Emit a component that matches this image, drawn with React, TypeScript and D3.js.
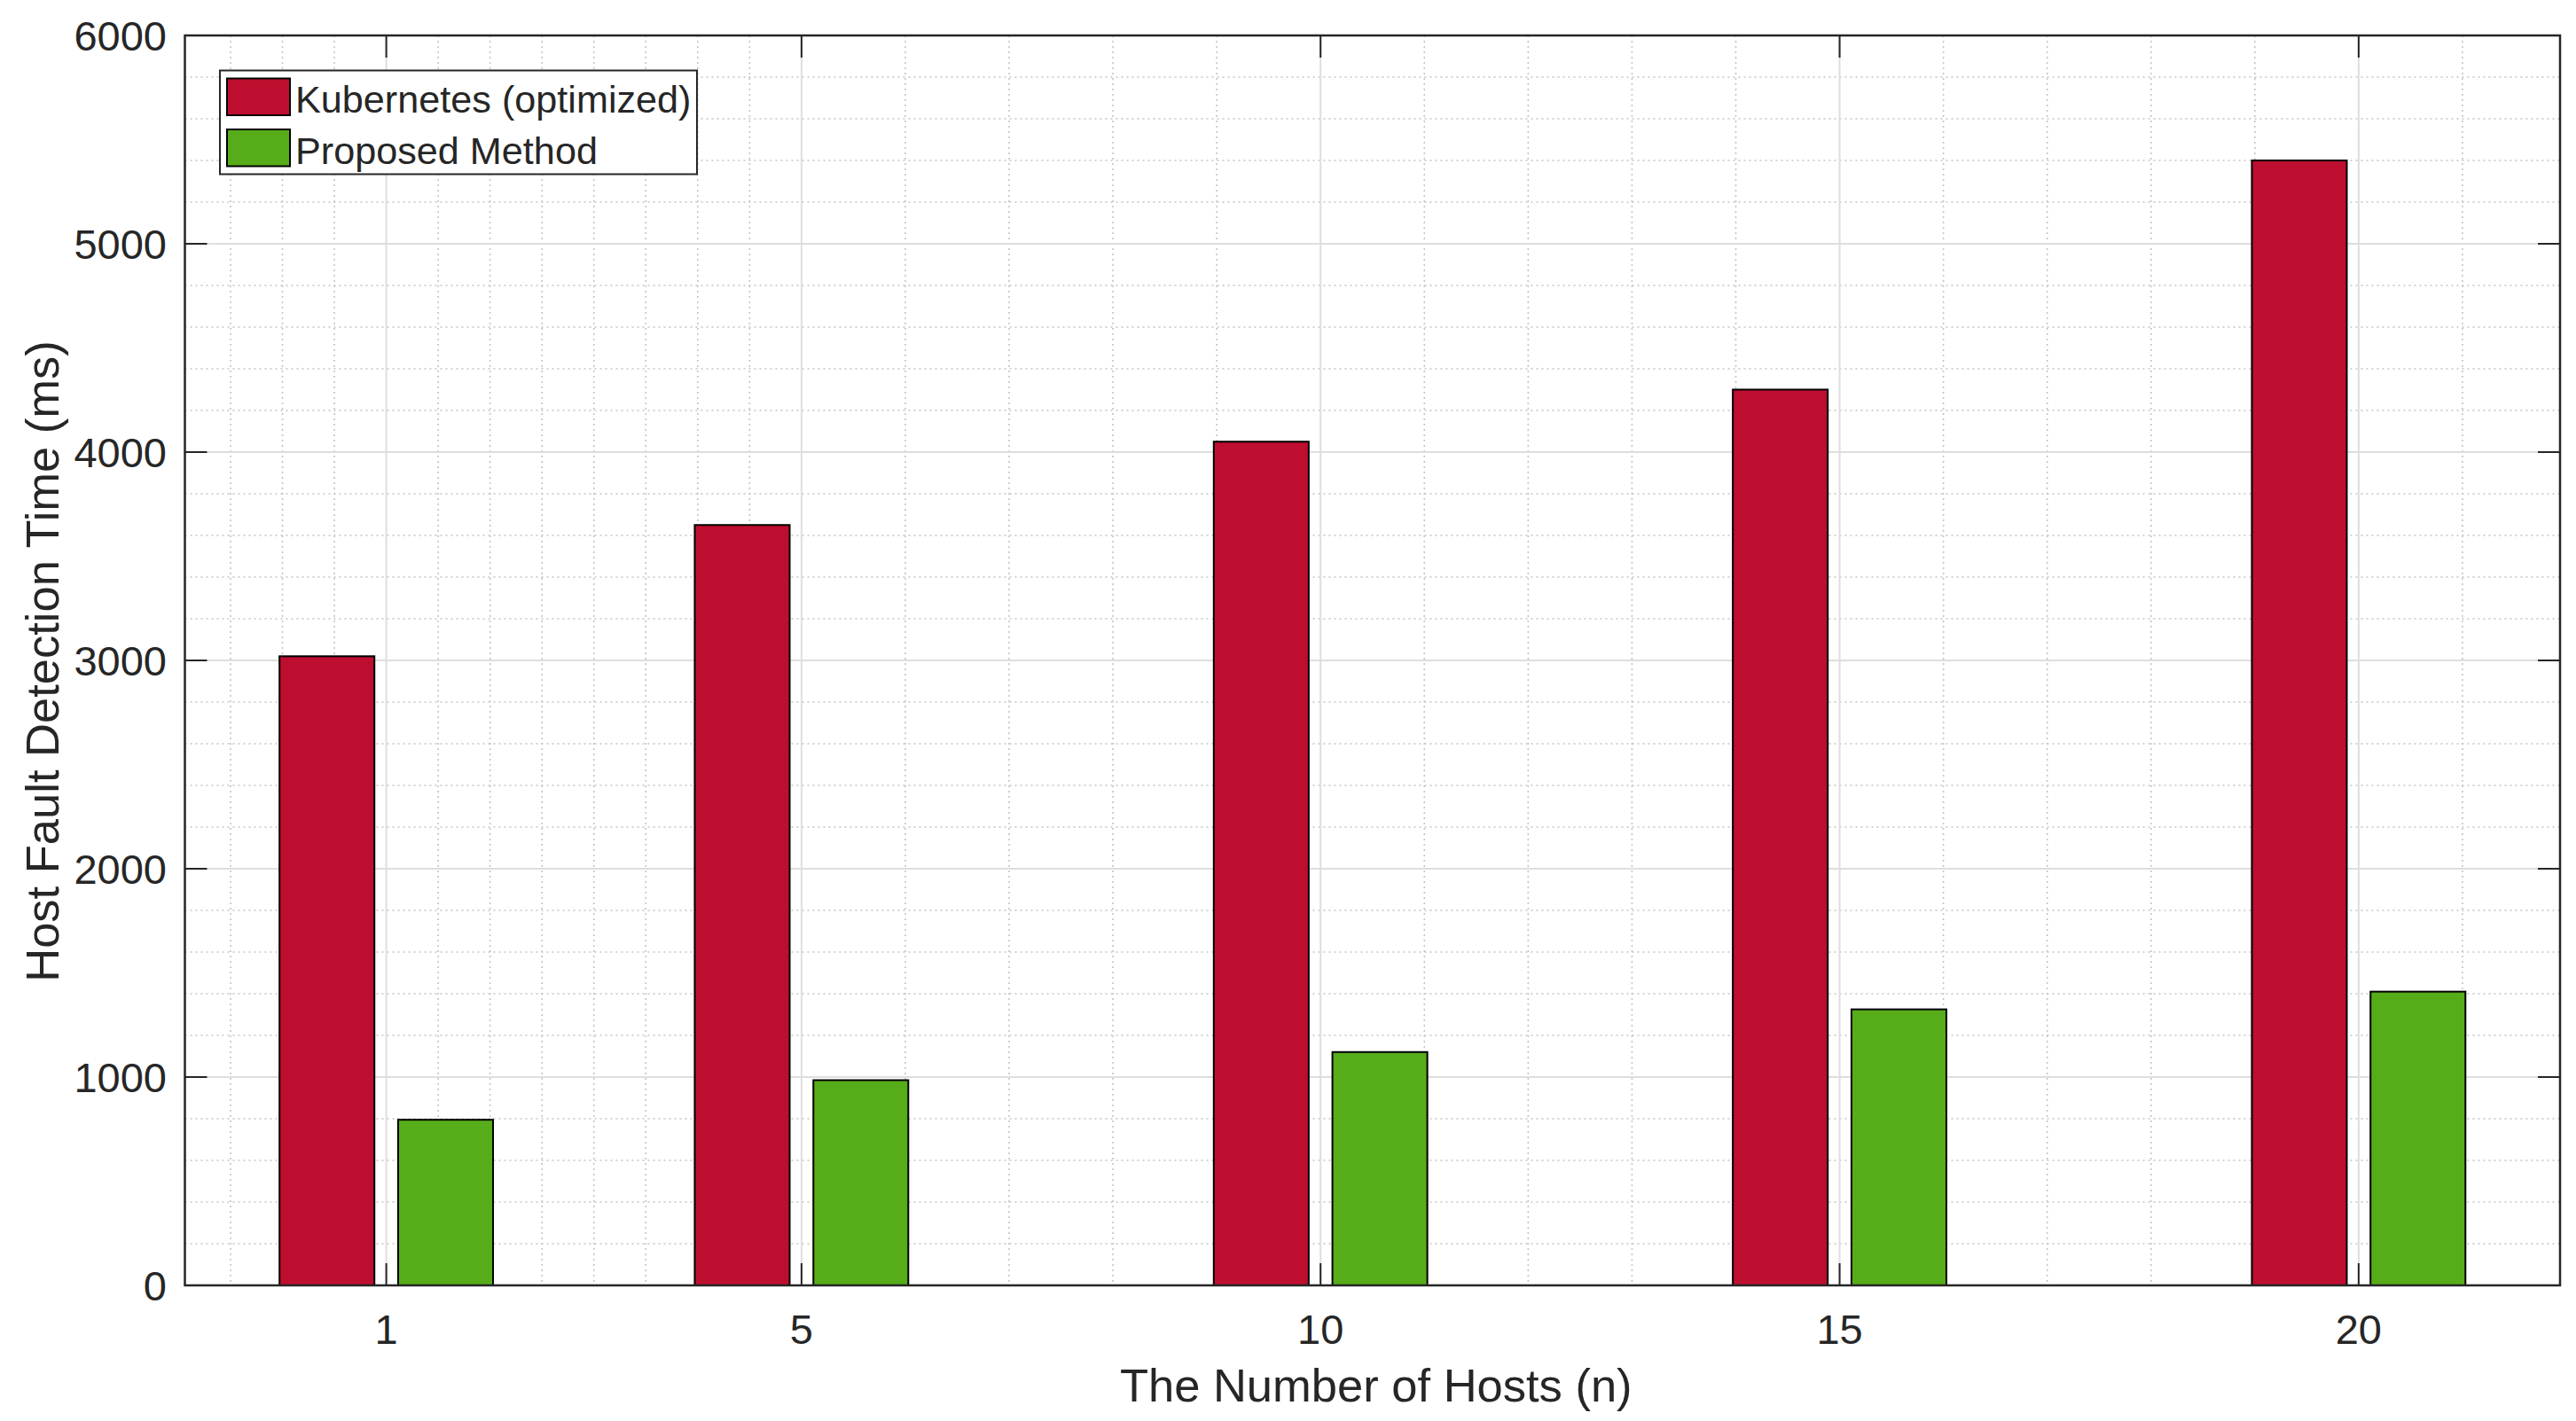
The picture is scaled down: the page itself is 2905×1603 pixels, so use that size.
import React from "react";
import * as d3 from "d3";

const hosts = [1, 5, 10, 15, 20];
const kubernetes = [3020, 3650, 4050, 4300, 5400];
const proposed = [795, 985, 1120, 1325, 1410];
const seriesNames = ["Kubernetes (optimized)", "Proposed Method"];
const seriesColors = ["#BE0E2F", "#57AD19"];
const yTicks = [0, 1000, 2000, 3000, 4000, 5000, 6000];
const xMinorTicks = [-0.5, 0, 0.5, 1.5, 2, 2.5, 3, 3.5, 4, 4.5, 6, 7, 8, 9, 11, 12, 13, 14, 16, 17, 18, 19, 21];
const yMinorTicks = d3.range(200, 6000, 200).filter((v) => v % 1000 !== 0);

const W = 2905;
const H = 1603;
const L = 208.5, R = 2887, T = 40, B = 1450;
const FONT = "'Liberation Sans', Arial, Helvetica, sans-serif";
const TXT = "#262626";

export default function App() {
  const x = d3.scaleLinear().domain([-0.94, 21.94]).range([L, R]);
  const y = d3.scaleLinear().domain([0, 6000]).range([B, T]);
  const dx = 4;
  const groupWidth = Math.min(0.8, 2 / 3.5) * dx;
  const barW = (groupWidth / 2) * 0.8;
  const offsets = [-groupWidth / 4, groupWidth / 4];
  const series = [kubernetes, proposed];
  const tickLen = 25;

  return (
    <svg width={W} height={H} style={{ position: "absolute", left: 0, top: 0, display: "block", background: "#fff" }}>
      <rect x={0} y={0} width={W} height={H} fill="#fff" />
      {xMinorTicks.map((v) => (
        <line key={"xm" + v} x1={x(v)} x2={x(v)} y1={T} y2={B} stroke="#C4C4C4" strokeWidth={1.6} strokeDasharray="2 4" />
      ))}
      {yMinorTicks.map((v) => (
        <line key={"ym" + v} x1={L} x2={R} y1={y(v)} y2={y(v)} stroke="#C4C4C4" strokeWidth={1.6} strokeDasharray="2 4" />
      ))}
      {hosts.map((v) => (
        <line key={"xg" + v} x1={x(v)} x2={x(v)} y1={T} y2={B} stroke="#DEDEDE" strokeWidth={2} />
      ))}
      {yTicks.map((v) => (
        <line key={"yg" + v} x1={L} x2={R} y1={y(v)} y2={y(v)} stroke="#DEDEDE" strokeWidth={2} />
      ))}
      {series.map((vals, si) =>
        vals.map((v, i) => {
          const cx = hosts[i] + offsets[si];
          const x0 = x(cx - barW / 2);
          const x1 = x(cx + barW / 2);
          return (
            <rect key={si + "-" + i} x={x0} y={y(v)} width={x1 - x0} height={y(0) - y(v)} fill={seriesColors[si]} stroke="#000" strokeWidth={2} />
          );
        })
      )}
      {hosts.map((v) => (
        <g key={"xt" + v}>
          <line x1={x(v)} x2={x(v)} y1={B} y2={B - tickLen} stroke={TXT} strokeWidth={2} />
          <line x1={x(v)} x2={x(v)} y1={T} y2={T + tickLen} stroke={TXT} strokeWidth={2} />
          <text x={x(v)} y={1516} textAnchor="middle" fontFamily={FONT} fontSize={47} fill={TXT}>{v}</text>
        </g>
      ))}
      {yTicks.map((v) => (
        <g key={"yt" + v}>
          <line x1={L} x2={L + tickLen} y1={y(v)} y2={y(v)} stroke={TXT} strokeWidth={2} />
          <line x1={R} x2={R - tickLen} y1={y(v)} y2={y(v)} stroke={TXT} strokeWidth={2} />
          <text x={188} y={y(v) + 17} textAnchor="end" fontFamily={FONT} fontSize={47} fill={TXT}>{v}</text>
        </g>
      ))}
      <rect x={L} y={T} width={R - L} height={B - T} fill="none" stroke={TXT} strokeWidth={2.5} />
      <text x={(L + R) / 2 + 4} y={1581} textAnchor="middle" fontFamily={FONT} fontSize={52.5} fill={TXT}>The Number of Hosts (n)</text>
      <text transform={`translate(66, ${(T + B) / 2 + 1}) rotate(-90)`} textAnchor="middle" fontFamily={FONT} fontSize={52.5} fill={TXT}>Host Fault Detection Time (ms)</text>
      <g>
        <rect x={248} y={79.5} width={538} height={117} fill="#fff" stroke={TXT} strokeWidth={2} />
        {seriesNames.map((name, i) => (
          <g key={name}>
            <rect x={256} y={88.5 + i * 57.5} width={71} height={41.5} fill={seriesColors[i]} stroke="#000" strokeWidth={2} />
            <text x={333} y={127 + i * 57.5} fontFamily={FONT} fontSize={43.2} fill={TXT}>{name}</text>
          </g>
        ))}
      </g>
    </svg>
  );
}
